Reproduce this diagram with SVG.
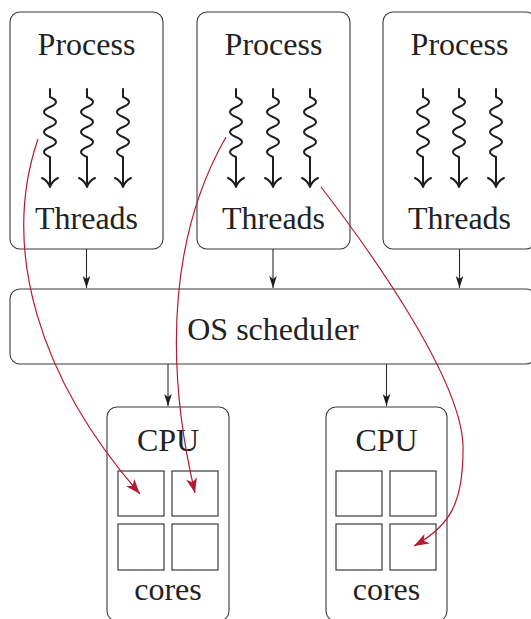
<svg xmlns="http://www.w3.org/2000/svg" width="531" height="619" viewBox="0 0 531 619">
<style>
  .box { fill: #ffffff; stroke: #3a3a3a; stroke-width: 1.1; }
  .core { fill: #ffffff; stroke: #3a3a3a; stroke-width: 1.2; }
  .lbl { font-family: "Liberation Serif", "DejaVu Serif", serif; font-size: 32px; fill: #222222; text-anchor: middle; }
  .thread { fill: none; stroke: #1e1e1e; stroke-width: 2; stroke-linecap: round; stroke-linejoin: round; }
  .arr { fill: none; stroke: #2a2a2a; stroke-width: 1.1; }
  .red { fill: none; stroke: #b31b34; stroke-width: 1.2; }
</style>
<defs>
  <marker id="blk" viewBox="-13 -5 14 10" markerWidth="14" markerHeight="10" refX="0" refY="0" orient="auto" markerUnits="userSpaceOnUse">
    <path d="M0,0 L-12,-3.8 L-9,0 L-12,3.8 Z" fill="#1e1e1e"/>
  </marker>
  <marker id="redm" viewBox="-16 -6 17 12" markerWidth="17" markerHeight="12" refX="0" refY="0" orient="auto" markerUnits="userSpaceOnUse">
    <path d="M0,0 L-15,-5.5 L-11,0 L-15,5.5 Z" fill="#b31b34"/>
  </marker>
  <g id="thr">
    <path class="thread" d="M0 89 V97 q 12 5 0 10 t 0 10 t 0 10 t 0 10 t 0 10 t 0 10 V186"/>
    <path class="thread" d="M-8 178 Q -2 181 0 187 Q 2 181 8 178"/>
  </g>
</defs>

<g id="process1">
  <rect class="box" x="10" y="12" width="153" height="237" rx="10"/>
  <text class="lbl" x="86.5" y="55">Process</text>
  <use href="#thr" x="50"/>
  <use href="#thr" x="87"/>
  <use href="#thr" x="123"/>
  <text class="lbl" x="86.5" y="229">Threads</text>
</g>
<g id="process2">
  <rect class="box" x="197" y="12" width="153" height="237" rx="10"/>
  <text class="lbl" x="273.5" y="55">Process</text>
  <use href="#thr" x="236"/>
  <use href="#thr" x="273"/>
  <use href="#thr" x="310"/>
  <text class="lbl" x="273.5" y="229">Threads</text>
</g>
<g id="process3">
  <rect class="box" x="383" y="12" width="153" height="237" rx="10"/>
  <text class="lbl" x="459.5" y="55">Process</text>
  <use href="#thr" x="423"/>
  <use href="#thr" x="459"/>
  <use href="#thr" x="496"/>
  <text class="lbl" x="459.5" y="229">Threads</text>
</g>
<g id="scheduler">
  <rect class="box" x="10" y="289" width="526" height="75" rx="10"/>
  <text class="lbl" x="273" y="340">OS scheduler</text>
</g>
<g id="cpu1">
  <rect class="box" x="107" y="407" width="122" height="214" rx="10"/>
  <text class="lbl" x="168" y="451">CPU</text>
  <rect class="core" x="118" y="471" width="46" height="45"/>
  <rect class="core" x="172" y="471" width="46" height="45"/>
  <rect class="core" x="118" y="524" width="46" height="46"/>
  <rect class="core" x="172" y="524" width="46" height="46"/>
  <text class="lbl" x="168" y="600">cores</text>
</g>
<g id="cpu2">
  <rect class="box" x="326" y="407" width="121" height="214" rx="10"/>
  <text class="lbl" x="386.5" y="451">CPU</text>
  <rect class="core" x="336" y="471" width="46" height="45"/>
  <rect class="core" x="390" y="471" width="46" height="45"/>
  <rect class="core" x="336" y="524" width="46" height="46"/>
  <rect class="core" x="390" y="524" width="46" height="46"/>
  <text class="lbl" x="386.5" y="600">cores</text>
</g>

<g id="connectors">
  <line class="arr" x1="86.5" y1="249" x2="86.5" y2="288" marker-end="url(#blk)"/>
  <line class="arr" x1="273" y1="249" x2="273" y2="288" marker-end="url(#blk)"/>
  <line class="arr" x1="459.5" y1="249" x2="459.5" y2="288" marker-end="url(#blk)"/>
  <line class="arr" x1="168" y1="364" x2="168" y2="406" marker-end="url(#blk)"/>
  <line class="arr" x1="386.5" y1="364" x2="386.5" y2="406" marker-end="url(#blk)"/>
  <path class="red" d="M38 139 C 0 250, 40 380, 140 494" marker-end="url(#redm)"/>
  <path class="red" d="M226 137 C 150 270, 180 430, 195 493" marker-end="url(#redm)"/>
  <path class="red" d="M321 187 C 361 239, 465 380, 463 450 C 463 503, 450 526, 414 546" marker-end="url(#redm)"/>
</g>
</svg>
